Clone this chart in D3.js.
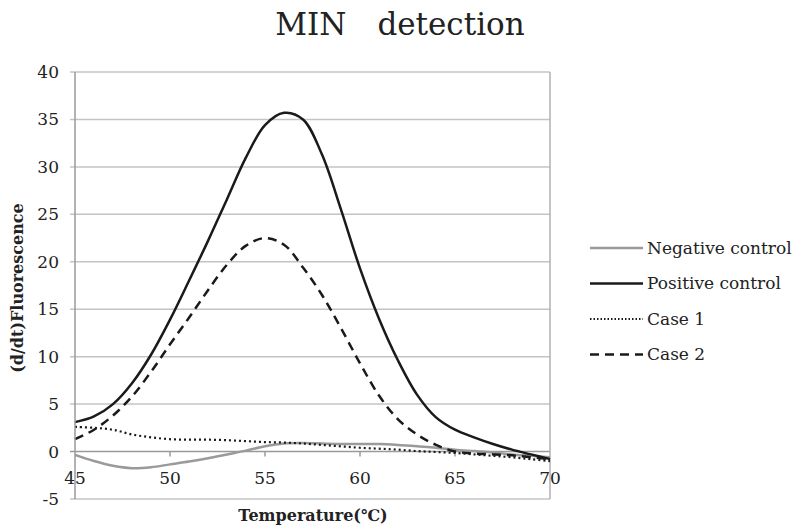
<!DOCTYPE html>
<html>
<head>
<meta charset="utf-8">
<script src="https://cdn.jsdelivr.net/npm/d3@7"></script>
<style>
  body { margin: 0; background: #fff; }
  svg { display: block; }
  text { font-family: "DejaVu Serif", serif; fill: #222; }
</style>
</head>
<body>
<div id="chart"></div>
<script>
// temperatures (°C)
var temps = [45, 46, 47, 48, 49, 50, 51, 52, 53, 54, 55, 56, 57, 58, 59, 60, 61, 62, 63, 64, 65, 66, 67, 68, 69, 70]

var negative = [-0.35, -1.0, -1.5, -1.75, -1.65, -1.35, -1.05, -0.7, -0.3, 0.1, 0.55, 0.85, 0.9, 0.85, 0.8, 0.8, 0.8, 0.7, 0.55, 0.4, 0.2, 0.05, -0.1, -0.3, -0.45, -0.6]
var positive = [3.1, 3.7, 5.0, 7.2, 10.2, 13.9, 18.0, 22.2, 26.6, 31.0, 34.4, 35.7, 35.0, 31.3, 25.5, 19.3, 14.0, 9.6, 6.0, 3.6, 2.3, 1.5, 0.8, 0.2, -0.3, -0.8]
var case1 = [2.6, 2.5, 2.3, 1.8, 1.5, 1.3, 1.25, 1.25, 1.2, 1.1, 1.0, 0.95, 0.85, 0.7, 0.55, 0.4, 0.3, 0.2, 0.05, -0.05, -0.15, -0.3, -0.45, -0.6, -0.8, -1.0]
var case2 = [1.3, 2.3, 3.8, 5.8, 8.4, 11.3, 14.1, 17.0, 19.7, 21.7, 22.5, 21.8, 19.4, 16.5, 13.0, 9.3, 5.9, 3.4, 1.8, 0.7, 0.0, -0.2, -0.3, -0.4, -0.6, -0.8]

var seriesNames = ["Negative control", "Positive control", "Case 1", "Case 2"]
var xTicks = [45, 50, 55, 60, 65, 70]
var yTicks = [-5, 0, 5, 10, 15, 20, 25, 30, 35, 40]

var styles = [
    { stroke: "#9a9a9a", width: 2.5, dash: null },
    { stroke: "#1a1a1a", width: 2.5, dash: null },
    { stroke: "#1a1a1a", width: 2.2, dash: "2,3" },
    { stroke: "#1a1a1a", width: 2.5, dash: "9,6" },
]

const width = 799
const height = 527
const plotLeft = 75, plotRight = 550, plotTop = 72, plotBottom = 499

const x = d3.scaleLinear().domain([45, 70]).range([plotLeft, plotRight])
const y = d3.scaleLinear().domain([-5, 40]).range([plotBottom, plotTop])

const svg = d3.select("#chart").append("svg")
    .attr("width", width)
    .attr("height", height)

// title
svg.append("text")
    .attr("x", 400)
    .attr("y", 35)
    .attr("text-anchor", "middle")
    .style("font-size", "31px")
    .text("MIN\u3000detection")

// horizontal gridlines
svg.append("g")
    .selectAll("line")
    .data(yTicks)
    .join("line")
    .attr("x1", plotLeft - 5)
    .attr("x2", plotRight)
    .attr("y1", d => y(d))
    .attr("y2", d => y(d))
    .attr("stroke", d => d == 0 ? "#9a9a9a" : "#c4c4c4")
    .attr("stroke-width", 1.5)

// right border
svg.append("line")
    .attr("x1", plotRight).attr("x2", plotRight)
    .attr("y1", plotTop).attr("y2", plotBottom)
    .attr("stroke", "#b0b0b0")
    .attr("stroke-width", 1.5)

// y tick labels
svg.append("g")
    .selectAll("text")
    .data(yTicks)
    .join("text")
    .attr("x", 59)
    .attr("y", d => y(d))
    .attr("dy", "0.35em")
    .attr("text-anchor", "end")
    .style("font-size", "17px")
    .text(d => d)

// x tick marks on zero line
svg.append("g")
    .selectAll("line")
    .data(xTicks.slice(1, -1))
    .join("line")
    .attr("x1", d => x(d)).attr("x2", d => x(d))
    .attr("y1", y(0)).attr("y2", y(0) + 5)
    .attr("stroke", "#9a9a9a")
    .attr("stroke-width", 1.5)

// x tick labels
svg.append("g")
    .selectAll("text")
    .data(xTicks)
    .join("text")
    .attr("x", d => x(d))
    .attr("y", 484)
    .attr("text-anchor", "middle")
    .style("font-size", "17px")
    .text(d => d)

// curves
const line = d3.line()
    .x((d, i) => x(temps[i]))
    .y(d => y(d))
    .curve(d3.curveCatmullRom.alpha(0.5))

const series = [negative, positive, case1, case2]
svg.append("g")
    .selectAll("path")
    .data(series)
    .join("path")
    .attr("fill", "none")
    .attr("stroke", (d, i) => styles[i].stroke)
    .attr("stroke-width", (d, i) => styles[i].width)
    .attr("stroke-dasharray", (d, i) => styles[i].dash)
    .attr("d", line)

// y axis line (drawn over the "45" label like the original)
svg.append("line")
    .attr("x1", plotLeft).attr("x2", plotLeft)
    .attr("y1", plotTop).attr("y2", plotBottom)
    .attr("stroke", "#9a9a9a")
    .attr("stroke-width", 1.5)

// axis titles
svg.append("text")
    .attr("x", 313)
    .attr("y", 521)
    .attr("text-anchor", "middle")
    .style("font-size", "16px")
    .style("font-weight", "bold")
    .text("Temperature(\u2103)")

svg.append("text")
    .attr("transform", "translate(23,288) rotate(-90)")
    .attr("text-anchor", "middle")
    .style("font-size", "16px")
    .style("font-weight", "bold")
    .text("(d/dt)Fluorescence")

// legend
const legend = svg.append("g")
    .selectAll("g")
    .data(seriesNames)
    .join("g")
    .attr("transform", (d, i) => `translate(590,${248 + i * 35.5})`)

legend.append("line")
    .attr("x1", 0).attr("x2", 53)
    .attr("stroke", (d, i) => styles[i].stroke)
    .attr("stroke-width", (d, i) => styles[i].width)
    .attr("stroke-dasharray", (d, i) => i == 2 ? "1.5,2" : styles[i].dash)

legend.append("text")
    .attr("x", 57)
    .attr("dy", "0.35em")
    .style("font-size", "17px")
    .text(d => d)
</script>
</body>
</html>
